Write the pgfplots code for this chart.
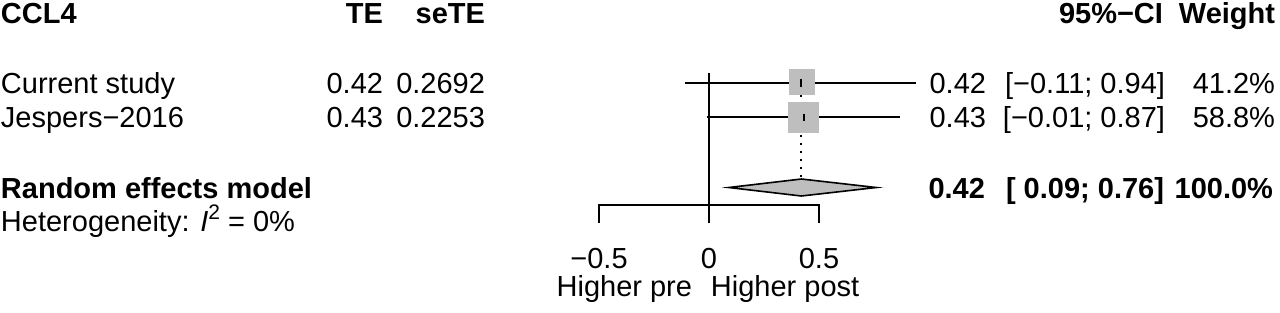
\documentclass[border=0pt]{standalone}
\usepackage{pgfplots}
\pgfplotsset{compat=1.18}
\usepackage{fontspec}
\setmainfont{Liberation Sans}
\definecolor{rgray}{HTML}{BEBEBE}
\begin{document}
\begin{tikzpicture}[font=\fontsize{14.5}{17}\selectfont, every node/.style={inner sep=0pt, outer sep=0pt}]
\begin{axis}[
  scale only axis, width=640pt, height=156pt,
  xmin=-3.22273, xmax=2.59545, ymin=0, ymax=312, y dir=reverse,
  hide axis, clip=false,
]
\path (rel axis cs:0,0) rectangle (rel axis cs:1,1);
% dotted line at pooled estimate
\addplot[black, line width=1pt, dash pattern=on 1pt off 3pt] coordinates {(0.42,95) (0.42,179)};
% squares (weights)
\addplot[only marks, mark=square*, mark size=6.25pt, color=rgray] coordinates {(0.42,82)};
\addplot[only marks, mark=square*, mark size=7.5pt, color=rgray] coordinates {(0.43,117.3)};
% CI lines
\addplot[black, line width=0.9pt] coordinates {(-0.11,82.7) (0.94,82.7)};
\addplot[black, line width=0.9pt] coordinates {(-0.01,117.3) (0.87,117.3)};
% point markers
\addplot[only marks, mark=|, mark size=1.9pt, mark options={line width=1pt}, black] coordinates {(0.42,82.7) (0.43,117.3)};
% diamond
\addplot[fill=rgray, draw=black, line width=0.8pt] coordinates {(0.09,187.5) (0.42,179) (0.76,187.5) (0.42,196) (0.09,187.5)} -- cycle;
% reference line at 0
\addplot[black, line width=0.8pt] coordinates {(0,73) (0,223)};
% x axis
\addplot[black, line width=0.8pt] coordinates {(-0.5,223) (-0.5,205) (0.5,205) (0.5,223)};
% tick labels
\node[anchor=base] at (axis cs:-0.5,268) {−0.5};
\node[anchor=base] at (axis cs:0,268) {0};
\node[anchor=base] at (axis cs:0.5,268) {0.5};
\node[anchor=base east] at (axis cs:-0.077,296) {Higher pre};
\node[anchor=base west] at (axis cs:0.009,296) {Higher post};
% left columns
\node[anchor=base west] at (axis cs:-3.2182,23) {\bfseries CCL4};
\node[anchor=base east] at (axis cs:-1.4818,23) {\bfseries TE};
\node[anchor=base east] at (axis cs:-1.0182,23) {\bfseries seTE};
\node[anchor=base west] at (axis cs:-3.2182,93.3) {Current study};
\node[anchor=base west] at (axis cs:-3.2182,127) {Jespers−2016};
\node[anchor=base east] at (axis cs:-1.4818,93.3) {0.42};
\node[anchor=base east] at (axis cs:-1.4818,127) {0.43};
\node[anchor=base east] at (axis cs:-1.0182,93.3) {0.2692};
\node[anchor=base east] at (axis cs:-1.0182,127) {0.2253};
\node[anchor=base west] at (axis cs:-3.2182,198) {\bfseries Random effects model};
\node[anchor=base west] at (axis cs:-3.2182,231) {Heterogeneity: {\itshape I}\raisebox{0.38em}{\fontsize{10.5}{12}\selectfont 2} = 0\%};
% right columns
\node[anchor=base east] at (axis cs:2.0636,23) {\bfseries 95\%−CI};
\node[anchor=base east] at (axis cs:2.5727,23) {\bfseries Weight};
\node[anchor=base east] at (axis cs:1.2591,93.3) {0.42};
\node[anchor=base east] at (axis cs:1.2591,127) {0.43};
\node[anchor=base east] at (axis cs:2.0727,93.3) {[−0.11; 0.94]};
\node[anchor=base east] at (axis cs:2.0727,127) {[−0.01; 0.87]};
\node[anchor=base east] at (axis cs:2.5727,93.3) {41.2\%};
\node[anchor=base east] at (axis cs:2.5727,127) {58.8\%};
\node[anchor=base east] at (axis cs:1.2545,198) {\bfseries 0.42};
\node[anchor=base east] at (axis cs:2.0682,198) {\bfseries [ 0.09; 0.76]};
\node[anchor=base east] at (axis cs:2.5636,198) {\bfseries 100.0\%};
\end{axis}
\end{tikzpicture}
\end{document}
